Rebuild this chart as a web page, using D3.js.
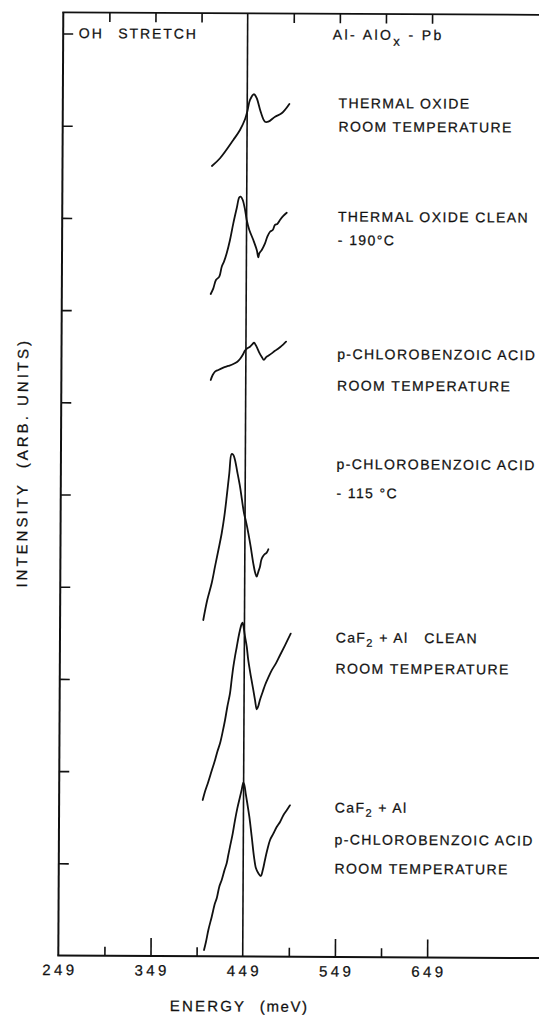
<!DOCTYPE html>
<html>
<head>
<meta charset="utf-8">
<script src="https://cdn.jsdelivr.net/npm/d3@7"></script>
<style>
  html, body { margin: 0; padding: 0; background: #fff; }
  svg { display: block; }
  text { font-family: "Liberation Sans", Arial, sans-serif; fill: #111; stroke: #111; stroke-width: 0.25; }
</style>
</head>
<body>
<svg id="chart" width="539" height="1015"></svg>
<script>
// Energy axis (meV)
const energyTickLabels = [249, 349, 449, 549, 649];
const bottomMajorTicks = [349, 549, 649];
const bottomMinorTicks = [299, 399, 499, 599];
const topTicks = [299, 349, 399, 499, 549, 599, 649];
const intensityTicks = [1, 2, 3, 4, 5, 6, 7, 8, 9, 10];
const peakEnergy = 449;

// OH-stretch spectra, [energy meV, intensity arb. units, offset stacked]
const thermalOxideRT = [[411.1,8.572],[419.8,8.656],[434.1,8.855],[441.3,8.964],[446.7,9.080],[449.1,9.163],[452.0,9.290],[456.3,9.352],[459.3,9.309],[463.6,9.164],[468.4,9.055],[472.0,9.056],[479.3,9.110],[486.4,9.147],[494.7,9.249]];
const thermalOxideCold = [[410.5,7.183],[413.3,7.245],[416.1,7.335],[419.7,7.372],[422.3,7.480],[424.7,7.535],[427.6,7.626],[431.1,7.770],[434.6,7.951],[438.2,8.115],[441.0,8.234],[442.5,8.241],[444.7,8.205],[447.3,8.096],[449.1,7.988],[452.0,7.880],[456.4,7.771],[460.2,7.663],[461.9,7.584],[463.0,7.628],[465.6,7.664],[469.1,7.736],[471.6,7.808],[474.5,7.862],[477.4,7.881],[479.8,7.936],[482.3,7.947],[485.2,7.990],[488.8,8.034],[492.5,8.069]];
const chlorobenzoicRT = [[411.0,6.251],[413.1,6.305],[415.6,6.341],[419.2,6.360],[424.6,6.385],[430.0,6.404],[435.4,6.425],[439.8,6.450],[442.6,6.480],[445.5,6.524],[448.0,6.571],[450.5,6.597],[453.4,6.614],[455.6,6.636],[457.8,6.657],[459.6,6.632],[461.4,6.597],[463.5,6.550],[466.1,6.506],[468.6,6.471],[470.8,6.500],[473.3,6.517],[477.0,6.543],[480.6,6.572],[483.1,6.587],[486.0,6.610],[489.6,6.642],[492.5,6.670]];
const chlorobenzoicCold = [[404.3,3.647],[408.5,3.864],[413.2,4.046],[416.7,4.226],[420.3,4.407],[423.8,4.589],[426.5,4.769],[429.0,4.986],[431.7,5.240],[434.1,5.449],[436.0,5.438],[437.8,5.384],[440.3,5.257],[443.4,5.095],[445.6,4.951],[447.9,4.807],[450.1,4.716],[452.7,4.590],[455.3,4.445],[458.2,4.265],[460.5,4.156],[462.0,4.120],[463.8,4.175],[465.5,4.229],[466.9,4.302],[468.4,4.337],[470.9,4.367],[472.7,4.381],[474.5,4.418]];
const caf2Clean = [[404.7,1.695],[407.1,1.785],[410.7,1.894],[414.3,2.013],[417.9,2.129],[420.3,2.219],[423.2,2.311],[426.0,2.437],[428.5,2.564],[430.9,2.708],[433.7,2.854],[435.4,2.998],[437.2,3.142],[438.9,3.251],[440.8,3.359],[442.4,3.451],[444.2,3.541],[446.0,3.606],[447.0,3.620],[448.6,3.541],[449.7,3.469],[451.6,3.360],[453.3,3.216],[456.0,3.053],[459.0,2.890],[460.9,2.782],[462.8,2.682],[464.5,2.718],[466.2,2.783],[469.2,2.873],[471.7,2.946],[475.1,3.026],[478.8,3.105],[483.5,3.184],[487.7,3.269],[493.1,3.377],[499.2,3.504]];
const caf2Chlorobenzoic = [[407.0,0.068],[409.1,0.158],[411.6,0.285],[415.2,0.430],[418.6,0.575],[420.5,0.629],[423.2,0.756],[425.8,0.829],[428.6,0.930],[431.1,1.010],[432.8,1.100],[434.6,1.190],[437.5,1.335],[439.9,1.479],[442.3,1.606],[445.2,1.733],[446.9,1.806],[448.7,1.885],[449.8,1.860],[451.3,1.770],[453.1,1.662],[455.4,1.516],[458.1,1.299],[460.7,1.082],[462.9,0.957],[465.5,0.903],[468.1,0.874],[470.3,0.939],[472.6,1.048],[475.0,1.156],[478.0,1.265],[481.5,1.334],[485.1,1.406],[488.7,1.461],[492.3,1.534],[495.9,1.588],[499.4,1.642]];

const spectra = [thermalOxideRT, thermalOxideCold, chlorobenzoicRT, chlorobenzoicCold, caf2Clean, caf2Chlorobenzoic];

// Sample labels: [text, baseline y]
const sampleLabels = [
  ["THERMAL OXIDE", 106.5],
  ["ROOM TEMPERATURE", 130],
  ["THERMAL OXIDE CLEAN", 220],
  ["- 190°C", 243.5],
  ["p-CHLOROBENZOIC ACID", 357.5],
  ["ROOM TEMPERATURE", 389],
  ["p-CHLOROBENZOIC ACID", 467.5],
  ["- 115 °C", 496.5],
  ["CaF|2| + Al   CLEAN", 641],
  ["ROOM TEMPERATURE", 672],
  ["CaF|2| + Al", 811],
  ["p-CHLOROBENZOIC ACID", 843],
  ["ROOM TEMPERATURE", 872]
];

const svg = d3.select("#chart");
svg.append("rect").attr("width", 539).attr("height", 1015).attr("fill", "#fff");

const x0 = 58.3, y0 = 955.5;
const x = d3.scaleLinear().domain([249, 649]).range([x0, x0 + 400 * 0.922]);
const y = d3.scaleLinear().domain([0, 10]).range([y0, 33.5]);
const xMax = 800, yTop = 10.23;

// the whole sheet sits slightly turned
const g = svg.append("g").attr("transform", `rotate(0.304, ${x0}, ${y0})`);

const ink = "#111";

// frame: left axis, bottom axis, top border
g.append("line").attr("x1", x(249)).attr("x2", x(249)).attr("y1", y(0)).attr("y2", y(yTop))
  .attr("stroke", ink).attr("stroke-width", 2);
g.append("line").attr("x1", x(249) - 1).attr("x2", x(xMax)).attr("y1", y(0)).attr("y2", y(0))
  .attr("stroke", ink).attr("stroke-width", 2);
g.append("line").attr("x1", x(249) - 1).attr("x2", x(xMax)).attr("y1", y(yTop)).attr("y2", y(yTop))
  .attr("stroke", ink).attr("stroke-width", 1.8);

// bottom ticks (pointing up into the plot)
const tickStyle = sel => { sel.select(".domain").remove(); sel.selectAll("line").attr("stroke", ink).attr("stroke-width", 1.6); sel.selectAll("text").remove(); };
g.append("g").attr("transform", `translate(0,${y(0)})`)
  .call(d3.axisTop(x).tickValues(bottomMajorTicks).tickSize(18).tickSizeOuter(0)).call(tickStyle);
g.append("g").attr("transform", `translate(0,${y(0)})`)
  .call(d3.axisTop(x).tickValues(bottomMinorTicks).tickSize(9).tickSizeOuter(0)).call(tickStyle);
// top ticks (pointing down)
g.append("g").attr("transform", `translate(0,${y(yTop)})`)
  .call(d3.axisBottom(x).tickValues(topTicks).tickSize(9.5).tickSizeOuter(0)).call(tickStyle);
// left ticks (pointing right)
g.append("g").attr("transform", `translate(${x(249)},0)`)
  .call(d3.axisRight(y).tickValues(intensityTicks).tickSize(10).tickSizeOuter(0)).call(tickStyle);

// energy tick labels
g.append("g").selectAll("text").data(energyTickLabels).join("text")
  .attr("x", d => x(d) + 1.8).attr("y", 975)
  .attr("text-anchor", "middle").attr("font-size", 15).attr("letter-spacing", 3.4)
  .text(d => d);

// reference line at the OH stretch energy
g.append("line").attr("x1", x(peakEnergy)).attr("x2", x(peakEnergy)).attr("y1", y(0)).attr("y2", y(yTop))
  .attr("stroke", ink).attr("stroke-width", 1.6);

// spectra
const line = d3.line().x(d => x(d[0])).y(d => y(d[1])).curve(d3.curveCatmullRom.alpha(0.5));
g.append("g").selectAll("path").data(spectra).join("path")
  .attr("d", line).attr("fill", "none").attr("stroke", ink).attr("stroke-width", 1.8)
  .attr("stroke-linejoin", "round").attr("stroke-linecap", "round");

// sample labels (|2| marks a subscript)
const lab = g.append("g").attr("font-size", 14).attr("letter-spacing", 1.4);
sampleLabels.forEach(([t, by]) => {
  const el = lab.append("text").attr("x", 334).attr("y", by).style("white-space", "pre");
  t.split("|").forEach((part, i) => {
    if (i % 2 === 1) {
      el.append("tspan").attr("dy", 4).attr("font-size", 11).text(part);
    } else {
      const ts = el.append("tspan").text(part);
      if (i > 0) ts.attr("dy", -4);
    }
  });
});

// header texts
const head = g.append("g").attr("font-size", 14).attr("letter-spacing", 1.9);
head.append("text").attr("x", 74).attr("y", 38).text("OH");
head.append("text").attr("x", 113.5).attr("y", 38).text("STRETCH");
const al = head.append("text").attr("x", 328).attr("y", 38).attr("letter-spacing", 2.4).style("white-space", "pre");
al.append("tspan").text("Al- AlO");
al.append("tspan").attr("dy", 6).attr("font-size", 13).text("x");
al.append("tspan").attr("dy", -6).text(" - Pb");

// axis titles
g.append("text").attr("x", 170).attr("y", 1010.5).attr("font-size", 15).attr("letter-spacing", 2.2).text("ENERGY");
g.append("text").attr("x", 309).attr("y", 1010.5).attr("font-size", 15).attr("letter-spacing", 1.6)
  .attr("text-anchor", "end").text("(meV)");
g.append("text").attr("transform", "translate(25,463) rotate(-90)")
  .attr("text-anchor", "middle").attr("font-size", 15).attr("letter-spacing", 3)
  .style("white-space", "pre").text("INTENSITY  (ARB. UNITS)");
</script>
</body>
</html>
